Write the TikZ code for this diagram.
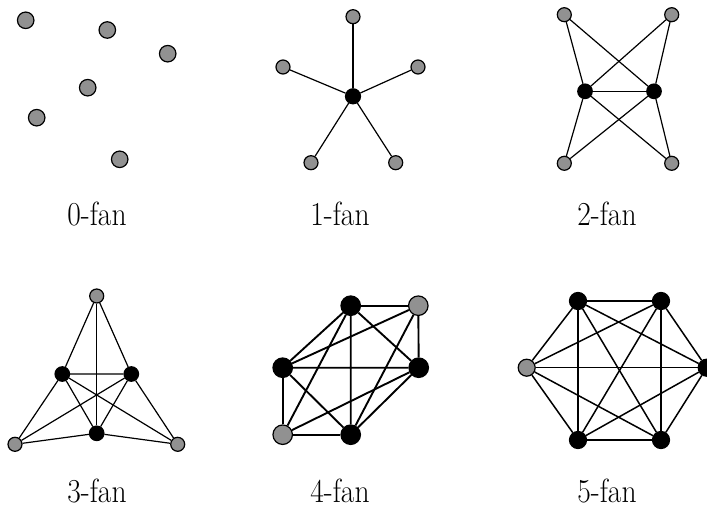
\documentclass[tikz,border=0pt]{standalone}
\usepackage{graphicx}
\definecolor{vgray}{RGB}{145,145,145}
\newcommand{\fanlabel}[1]{\scalebox{0.88}[1]{\fontsize{33.5}{40}\selectfont #1}}
\tikzset{
  gv/.style={circle,draw=black,fill=vgray,line width=1.2pt,inner sep=0pt,minimum size=#1},
  bv/.style={circle,draw=black,fill=black,line width=1.2pt,inner sep=0pt,minimum size=#1},
  ed/.style={line width=#1},
  lab/.style={anchor=base,inner sep=0pt}
}
\begin{document}
\begin{tikzpicture}[x=1pt,y=-1pt]
\useasboundingbox (0,0) rectangle (707,508);
% ---------- 0-fan ----------
\node[gv=16.5pt] (a1) at (25.7,20.3) {};
\node[gv=16.5pt] (a2) at (107.3,30) {};
\node[gv=16.5pt] (a3) at (167.7,53.7) {};
\node[gv=16.5pt] (a4) at (87.7,87.7) {};
\node[gv=16.5pt] (a5) at (36.7,117.7) {};
\node[gv=16.5pt] (a6) at (119.7,159.3) {};
\node[lab] (l0) at (97,225) {\fanlabel{0-fan}};
% ---------- 1-fan ----------
\node[bv=15pt] (bc) at (353,96.3) {};
\node[gv=14pt] (b1) at (353,16.7) {};
\node[gv=14pt] (b2) at (283,67) {};
\node[gv=14pt] (b3) at (418,67) {};
\node[gv=14pt] (b4) at (311,162.7) {};
\node[gv=14pt] (b5) at (395.7,162.7) {};
\foreach \g in {b1,b2,b3,b4,b5} \draw[ed=1.2pt] (bc) -- (\g);
\node[lab] (l1) at (340,225) {\fanlabel{1-fan}};
% ---------- 2-fan ----------
\node[bv=14.5pt] (cl) at (585,91.3) {};
\node[bv=14.5pt] (cr) at (654,91.3) {};
\node[gv=14pt] (c1) at (564.3,14.7) {};
\node[gv=14pt] (c2) at (671.7,14.7) {};
\node[gv=14pt] (c3) at (564.3,163.3) {};
\node[gv=14pt] (c4) at (671.7,163.3) {};
\draw[ed=1.2pt] (cl) -- (cr);
\foreach \g in {c1,c2,c3,c4} {\draw[ed=1.2pt] (cl) -- (\g); \draw[ed=1.2pt] (cr) -- (\g);}
\node[lab] (l2) at (607,225) {\fanlabel{2-fan}};
% ---------- 3-fan ----------
\node[bv=14.5pt] (dl) at (62.3,374) {};
\node[bv=14.5pt] (dr) at (131.3,374) {};
\node[bv=14.5pt] (db) at (96.7,433.3) {};
\node[gv=14pt] (d1) at (96.7,296) {};
\node[gv=14pt] (d2) at (15,444.3) {};
\node[gv=14pt] (d3) at (177.7,444.3) {};
\draw[ed=1.2pt] (dl) -- (dr) (dl) -- (db) (dr) -- (db);
\foreach \g in {d1,d2,d3} {\draw[ed=1.2pt] (dl) -- (\g); \draw[ed=1.2pt] (dr) -- (\g); \draw[ed=1.2pt] (db) -- (\g);}
\node[lab] (l3) at (97,502) {\fanlabel{3-fan}};
% ---------- 4-fan ----------
\node[bv=19.5pt] (et) at (350.7,305.7) {};
\node[bv=19.5pt] (el) at (282.7,367.7) {};
\node[bv=19.5pt] (er) at (418.7,367.7) {};
\node[bv=19.5pt] (eb) at (350.7,434.7) {};
\node[gv=19.5pt] (e1) at (418.3,305.7) {};
\node[gv=19.5pt] (e2) at (282.7,434.7) {};
\draw[ed=1.9pt] (et) -- (el) (et) -- (er) (et) -- (eb) (el) -- (er) (el) -- (eb) (er) -- (eb);
\foreach \g in {e1,e2} {\draw[ed=1.9pt] (et) -- (\g); \draw[ed=1.9pt] (el) -- (\g); \draw[ed=1.9pt] (er) -- (\g); \draw[ed=1.9pt] (eb) -- (\g);}
\node[lab] (l4) at (340,502) {\fanlabel{4-fan}};
% ---------- 5-fan ----------
\node[bv=17pt] (f1) at (578,301) {};
\node[bv=17pt] (f2) at (661,301) {};
\node[bv=17pt] (f3) at (706.7,367.7) {};
\node[bv=17pt] (f4) at (661,440) {};
\node[bv=17pt] (f5) at (578,440) {};
\node[gv=17pt] (f0) at (526.7,367.7) {};
\foreach \a/\b in {f0/f1,f0/f2,f0/f3,f0/f4,f0/f5,f1/f2,f1/f3,f1/f4,f1/f5,f2/f3,f2/f4,f2/f5,f3/f4,f3/f5,f4/f5}
  \draw[ed=1.5pt] (\a) -- (\b);
\node[lab] (l5) at (607,502) {\fanlabel{5-fan}};
\end{tikzpicture}
\end{document}
